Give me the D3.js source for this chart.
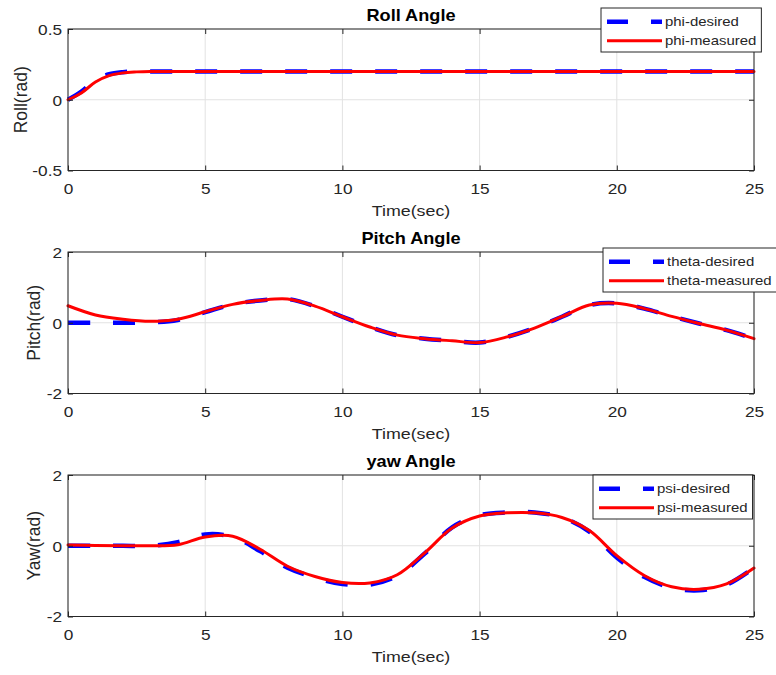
<!DOCTYPE html>
<html>
<head>
<meta charset="utf-8">
<script src="https://cdn.jsdelivr.net/npm/d3@7"></script>
<style>
  html, body { margin: 0; padding: 0; background: #fff; }
  svg { display: block; font-family: "Liberation Sans", Arial, Helvetica, sans-serif; }
</style>
</head>
<body>
<svg id="chart" width="776" height="675"></svg>
<script>
// ---- data ----
const time = [0,1,2,3,4,5,6,7,8,9,10,11,12,13,14,15,16,17,18,19,20,21,22,23,24,25];
const rollTime = [0,0.5,1,1.5,2,2.5,3,4,5,6,7,8,9,10,11,12,13,14,15,16,17,18,19,20,21,22,23,24,25];

const rollDesired  = [0,0.06,0.14,0.18,0.195,0.2,0.2,0.2,0.2,0.2,0.2,0.2,0.2,0.2,0.2,0.2,0.2,0.2,0.2,0.2,0.2,0.2,0.2,0.2,0.2,0.2,0.2,0.2,0.2];
const rollMeasured = [0,0.05,0.125,0.17,0.19,0.197,0.2,0.2,0.2,0.2,0.2,0.2,0.2,0.2,0.2,0.2,0.2,0.2,0.2,0.2,0.2,0.2,0.2,0.2,0.2,0.2,0.2,0.2,0.2];

const pitchDesired  = [0,0,0,0.01,0.08,0.3,0.52,0.63,0.67,0.47,0.17,-0.12,-0.35,-0.45,-0.51,-0.56,-0.4,-0.15,0.17,0.5,0.55,0.4,0.18,-0.02,-0.21,-0.45];
const pitchMeasured = [0.48,0.22,0.1,0.04,0.1,0.31,0.52,0.63,0.67,0.47,0.17,-0.12,-0.35,-0.45,-0.51,-0.56,-0.4,-0.15,0.17,0.5,0.55,0.4,0.18,-0.02,-0.21,-0.45];

const yawDesired  = [0,0,0,0,0.1,0.32,0.25,-0.15,-0.62,-0.9,-1.08,-1.1,-0.85,-0.22,0.52,0.86,0.94,0.94,0.8,0.4,-0.33,-0.88,-1.19,-1.26,-1.1,-0.62];
const yawMeasured = [0.02,0.01,0,0,0.03,0.25,0.27,-0.1,-0.58,-0.87,-1.04,-1.05,-0.82,-0.2,0.5,0.84,0.93,0.93,0.8,0.43,-0.28,-0.84,-1.16,-1.23,-1.08,-0.63];

const timeTicks  = [0,5,10,15,20,25];
const rollTicks  = [-0.5,0,0.5];
const pitchTicks = [-2,0,2];
const yawTicks   = [-2,0,2];

const titles  = ["Roll Angle", "Pitch Angle", "yaw Angle"];
const yLabels = ["Roll(rad)", "Pitch(rad)", "Yaw(rad)"];
const xLabel  = "Time(sec)";
const legendNames = [
  ["phi-desired", "phi-measured"],
  ["theta-desired", "theta-measured"],
  ["psi-desired", "psi-measured"]
];

// ---- layout ----
const plotLeft = 68, plotRight = 754, plotHeight = 141.5;
const panelTops = [29, 252, 475];
const legendPos = [[601, 8], [603, 248], [593, 475]];
const yLabelX = [26.5, 39.5, 39.5];
const stretch = 1.15;          // horizontal text widening
const axisColor = "#262626";

const panels = [
  { t: rollTime, desired: rollDesired,  measured: rollMeasured,  ticks: rollTicks,  domain: [-0.5, 0.5] },
  { t: time,     desired: pitchDesired, measured: pitchMeasured, ticks: pitchTicks, domain: [-2, 2] },
  { t: time,     desired: yawDesired,   measured: yawMeasured,   ticks: yawTicks,   domain: [-2, 2] }
];

const svg = d3.select("#chart");
svg.append("rect").attr("width", 776).attr("height", 675).attr("fill", "#fff");

const x = d3.scaleLinear().domain([0, 25]).range([plotLeft, plotRight]);
const fmt = d => String(d);

panels.forEach((p, i) => {
  const top = panelTops[i], bottom = top + plotHeight;
  const y = d3.scaleLinear().domain(p.domain).range([bottom, top]);
  const g = svg.append("g");

  // grid
  g.append("g").selectAll("line.vx").data(timeTicks).join("line")
    .attr("x1", d => x(d)).attr("x2", d => x(d))
    .attr("y1", top).attr("y2", bottom)
    .attr("stroke", "#e2e2e2").attr("stroke-width", 1);
  g.append("g").selectAll("line.hy").data(p.ticks).join("line")
    .attr("x1", plotLeft).attr("x2", plotRight)
    .attr("y1", d => y(d)).attr("y2", d => y(d))
    .attr("stroke", "#e2e2e2").attr("stroke-width", 1);

  // series
  const line = d3.line()
    .x(d => x(d[0])).y(d => y(d[1]))
    .curve(d3.curveCatmullRom.alpha(0.5));
  g.append("path").datum(d3.zip(p.t, p.desired))
    .attr("d", line).attr("fill", "none")
    .attr("stroke", "#0000ff").attr("stroke-width", 4.5)
    .attr("stroke-dasharray", "22,23").attr("stroke-linecap", "butt");
  g.append("path").datum(d3.zip(p.t, p.measured))
    .attr("d", line).attr("fill", "none")
    .attr("stroke", "#ff0000").attr("stroke-width", 3)
    .attr("stroke-linejoin", "round").attr("stroke-linecap", "round");

  // axes (inward ticks on all four sides)
  const ax = (gen, tx, ty, labels) => {
    const a = g.append("g").attr("transform", `translate(${tx},${ty})`).call(gen);
    a.select(".domain").remove();
    a.selectAll(".tick line").attr("stroke", axisColor);
    if (labels) {
      a.selectAll(".tick text")
        .attr("fill", axisColor).attr("font-size", 15)
        .attr("transform", `scale(${stretch},1)`);
    } else {
      a.selectAll(".tick text").remove();
    }
    a.attr("font-family", null).attr("font-size", null);
    return a;
  };
  ax(d3.axisBottom(x).tickValues(timeTicks).tickFormat(fmt).tickSize(-5).tickSizeOuter(0).tickPadding(12.8), 0, bottom, true);
  ax(d3.axisTop(x).tickValues(timeTicks).tickSize(-5).tickSizeOuter(0), 0, top, false);
  const la = ax(d3.axisLeft(y).tickValues(p.ticks).tickFormat(fmt).tickSize(-5).tickSizeOuter(0).tickPadding(5.2), plotLeft, 0, true);
  la.selectAll(".tick text").attr("dy", "0.36em");
  ax(d3.axisRight(y).tickValues(p.ticks).tickSize(-5).tickSizeOuter(0), plotRight, 0, false);

  // frame
  g.append("rect")
    .attr("x", plotLeft).attr("y", top)
    .attr("width", plotRight - plotLeft).attr("height", plotHeight)
    .attr("fill", "none").attr("stroke", axisColor).attr("stroke-width", 1);

  // title
  g.append("text")
    .attr("transform", `translate(${(plotLeft + plotRight) / 2},${top - 8}) scale(${stretch},1)`)
    .attr("text-anchor", "middle").attr("font-weight", "bold")
    .attr("font-size", 15.8).attr("fill", "#000")
    .text(titles[i]);

  // x label
  g.append("text")
    .attr("transform", `translate(${(plotLeft + plotRight) / 2},${bottom + 45.5}) scale(${stretch},1)`)
    .attr("text-anchor", "middle").attr("font-size", 15.5).attr("fill", axisColor)
    .text(xLabel);

  // y label
  g.append("text")
    .attr("transform", `translate(${yLabelX[i]},${(top + bottom) / 2}) rotate(-90)`)
    .attr("text-anchor", "middle").attr("font-size", 17.5).attr("fill", axisColor)
    .text(yLabels[i]);

  // legend
  const [lx, ly] = legendPos[i];
  const lg = svg.append("g").attr("transform", `translate(${lx},${ly})`);
  const box = lg.append("rect").attr("y", 0).attr("height", 44)
    .attr("fill", "#fff").attr("stroke", axisColor).attr("stroke-width", 1);
  const rows = [13.7, 32.7];
  lg.append("line").attr("x1", 6).attr("x2", 61).attr("y1", rows[0]).attr("y2", rows[0])
    .attr("stroke", "#0000ff").attr("stroke-width", 4.5).attr("stroke-dasharray", "21,23");
  lg.append("line").attr("x1", 6).attr("x2", 61).attr("y1", rows[1]).attr("y2", rows[1])
    .attr("stroke", "#ff0000").attr("stroke-width", 3);
  let maxW = 0;
  legendNames[i].forEach((name, k) => {
    const t = lg.append("text")
      .attr("transform", `translate(64,${rows[k] + 4.6}) scale(${stretch},1)`)
      .attr("font-size", 13).attr("fill", axisColor)
      .text(name);
    maxW = Math.max(maxW, t.node().getComputedTextLength() * stretch);
  });
  box.attr("x", 0).attr("width", 64 + maxW + 5);
});
</script>
</body>
</html>
